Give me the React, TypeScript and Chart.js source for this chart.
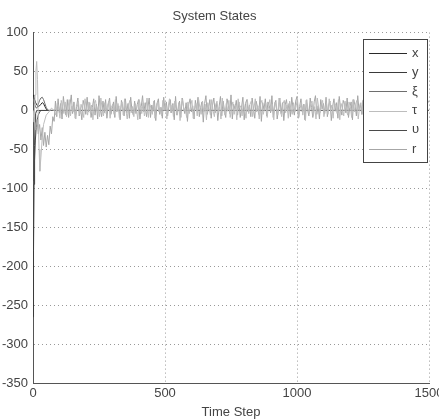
import React, { useEffect, useRef } from "react";
import { Chart, registerables } from "chart.js";

Chart.register(...registerables);

const chartTitle = "System States";
const xAxisTitle = "Time Step";
const xTicks = [0, 500, 1000, 1500];
const yMin = -350;
const yMax = 100;
const yStep = 50;

const seriesLabels = ["x", "y", "ξ", "τ", "υ", "r"];
const seriesColors = ["#2a2a2a", "#3a3a3a", "#6e6e6e", "#bdbdbd", "#4a4a4a", "#a6a6a6"];

// x
const xT = [0, 3, 6, 10, 15, 20, 25, 30, 35, 40, 45, 50, 55, 60, 1500];
const xV = [20, 18, 14, 10, 7, 5, 6, 8, 10, 9, 5, 2, 0, 0, 0];
// y
const yT = [0, 2, 4, 6, 8, 10, 14, 20, 1500];
const yV = [-265, -180, -95, -45, -15, -4, 0, 0, 0];
// xi
const xiT = [0, 5, 10, 15, 20, 25, 30, 35, 40, 45, 50, 55, 60, 70, 1500];
const xiV = [15, 10, 4, 3, 8, 13, 16, 17, 14, 9, 4, 1, 0, 0, 0];
// tau transient
const tauT = [0, 4, 8, 11, 14, 17, 20, 23, 26, 30, 35, 40, 50, 60, 70, 80];
const tauV = [0, -15, 20, 50, 63, 40, -10, -50, -78, -60, -35, -18, -6, -2, 3, 0];
// tau noise, time step 87..1482 every 5
const tauNoiseStart = 87;
const tauNoiseStep = 5;
const tauNoise = [
  -6, 9, 3, -10, 13, 5, -4, 11, -8, 2, 14, -7, 6, -2, 10, -11, 4, 12, -5, 8,
  1, -9, 15, 3, -6, 11, -3, 7, -12, 9, 13, -1, 5, -8, 16, 2, -7, 10, -4, 6,
  12, -10, 4, 8, -5, 14, -2, 9, -9, 3, 11, -6, 15, 0, -11, 7, 13, -3, 5, -8,
  9, 2, -12, 14, 6, -4, 10, -7, 1, 16, -9, 8, 3, -5, 12, -10, 6, 11, -2, 4,
  -7, 13, 0, 9, -11, 5, 15, -3, 7, -8, 12, 2, -6, 10, -13, 8, 14, -1, 3, -9,
  11, -4, 6, 13, -10, 1, 9, -7, 15, 4, -5, 12, -2, 8, -12, 10, 3, -6, 14, 0,
  -8, 7, 12, -3, 5, -11, 16, 2, -6, 9, -1, 13, -9, 4, 11, -5, 7, -12, 15, 3,
  6, -7, 10, 1, -10, 14, -4, 8, 12, -8, 3, 15, -2, 6, -11, 9, 13, -5, 2, 10,
  -9, 5, 14, -1, 8, -12, 11, 4, -6, 16, 0, -8, 9, 13, -3, 7, -10, 12, 2, -5,
  10, -2, 6, 15, -9, 3, 11, -6, 8, -13, 14, 1, -4, 9, 12, -7, 5, -11, 16, 4,
  -3, 8, 13, -8, 2, 10, -5, 15, -1, 7, -10, 11, 6, -4, 14, -12, 9, 3, -7, 12,
  0, -6, 11, 5, -9, 14, -2, 8, 13, -11, 4, 10, -5, 16, 2, -8, 7, 12, -3, 9,
  -10, 6, 15, -4, 1, 11, -7, 9, 14, -2, 5, -12, 10, 3, -6, 13, -9, 8, 0, 11,
  -5, 12, 4, -8, 9, 14, -3, 7, -11, 10, 2, -6, 13, 5, -10, 8, 15, -1, 6, -7,
];
// upsilon
const upT = [0, 3, 6, 9, 12, 16, 20, 25, 30, 40, 1500];
const upV = [-90, -85, -62, -38, -22, -12, -6, -2, 0, 0, 0];
// r transient
const rT = [0, 5, 10, 15, 20, 25, 30, 35, 40, 45, 50, 55, 60, 65, 70, 75, 80];
const rV = [0, -8, -25, -12, -30, -18, -38, -22, -45, -28, -47, -32, -44, -20, -30, -8, -14];
// r noise, time step 85..1500 every 5
const rNoiseStart = 85;
const rNoiseStep = 5;
const rNoise = [
  12, -8, 15, -3, 9, -11, 18, 2, -6, 14, -9, 7, 20, -4, 11, -10, 5, 16, -7, 3,
  -12, 13, 6, -5, 17, -2, 10, -9, 4, 15, -6, 8, -11, 19, 1, -8, 12, -3, 14, -10,
  7, 16, -5, 2, 11, -9, 18, -1, 6, -12, 13, 4, -7, 15, -3, 9, -10, 17, 0, -6,
  12, -4, 8, 14, -11, 5, 19, -2, 10, -8, 3, 16, -9, 7, -1, 13, -13, 9, 15, -5,
  4, -10, 17, 1, 11, -7, 6, 14, -3, 9, -12, 18, -6, 2, 12, -9, 16, 5, -4, 10,
  -14, 8, 15, -2, 6, -11, 13, 0, 17, -8, 4, 11, -15, 9, 19, -5, 3, 14, -10, 7,
  16, -3, 10, -13, 5, 18, -7, 12, 1, -9, 15, 6, -4, 20, -11, 8, 2, 13, -6, 11,
  -9, 4, 17, -12, 9, 14, -2, 7, -8, 16, 3, -10, 12, 5, -5, 18, -14, 10, 1, 15,
  -7, 11, 6, -3, 19, -9, 8, 13, -11, 2, 16, -4, 10, -13, 7, 14, -1, 9, -8, 17,
  3, -6, 12, 18, -10, 5, 15, -2, 8, -12, 13, 1, -7, 16, 4, -9, 11, 19, -5, 6,
  -11, 14, 2, 9, -4, 17, -8, 7, 12, -13, 5, 15, -1, 10, -10, 18, 3, -6, 13, 8,
  -3, 16, -9, 4, 11, -12, 14, 6, -7, 19, 0, 9, -5, 13, -10, 7, 15, -2, 11, -8,
  5, 17, -6, 10, -11, 3, 14, 8, -4, 16, -9, 12, 1, -13, 18, 6, -3, 9, -7, 15,
  10, -2, 13, -8, 5, 17, -10, 8, 2, 14, -5, 11, -12, 16, 4, -6, 9, 18, -3, 12,
  -9, 7, 13, 10,
];

const FONT = "'Liberation Sans', Arial, sans-serif";

function pts(ts: number[], vs: number[]) {
  return ts.map((t, i) => ({ x: t, y: vs[i] }));
}

export default function App() {
  const ref = useRef<HTMLCanvasElement | null>(null);

  useEffect(() => {
    document.body.style.margin = "0";
    const canvas = ref.current;
    if (!canvas) return;

    const rAllT = rT.concat(rNoise.map((_, i) => rNoiseStart + i * rNoiseStep));
    const rAllV = rV.concat(rNoise);
    const tauAllT = tauT.concat(tauNoise.map((_, i) => tauNoiseStart + i * tauNoiseStep));
    const tauAllV = tauV.concat(tauNoise);

    const seriesData = [
      pts(xT, xV),
      pts(yT, yV),
      pts(xiT, xiV),
      pts(tauAllT, tauAllV),
      pts(upT, upV),
      pts(rAllT, rAllV),
    ];

    // draw order: noisy first, dark on top
    const order = [3, 5, 2, 4, 1, 0];
    const datasets = order.map((i) => ({
      label: seriesLabels[i],
      data: seriesData[i],
      borderColor: seriesColors[i],
      backgroundColor: seriesColors[i],
      borderWidth: 1,
      pointRadius: 0,
      tension: 0,
      fill: false,
    }));

    const legendPlugin = {
      id: "matlabLegend",
      afterDatasetsDraw(chart: any) {
        const ctx = chart.ctx;
        const bx = 363, by = 39, bw = 64, bh = 123;
        ctx.save();
        ctx.fillStyle = "#ffffff";
        ctx.fillRect(bx, by, bw, bh);
        ctx.strokeStyle = "#444";
        ctx.lineWidth = 1;
        ctx.strokeRect(bx + 0.5, by + 0.5, bw, bh);
        ctx.font = "13px " + FONT;
        ctx.textBaseline = "middle";
        ctx.textAlign = "left";
        seriesLabels.forEach((lab, i) => {
          const yy = by + 14 + i * 19.2;
          ctx.strokeStyle = seriesColors[i];
          ctx.beginPath();
          ctx.moveTo(bx + 6, Math.round(yy) + 0.5);
          ctx.lineTo(bx + 44, Math.round(yy) + 0.5);
          ctx.stroke();
          ctx.fillStyle = "#444";
          ctx.fillText(lab, bx + 49, yy);
        });
        ctx.restore();
      },
    };

    const chart = new Chart(canvas, {
      type: "line",
      data: { datasets },
      plugins: [legendPlugin],
      options: {
        animation: false,
        responsive: false,
        devicePixelRatio: 1,
        layout: { padding: { left: 0, right: 10, top: 0, bottom: 0 } },
        plugins: {
          legend: { display: false },
          tooltip: { enabled: false },
          title: {
            display: true,
            text: chartTitle,
            color: "#444",
            font: { family: FONT, size: 13, weight: "normal" },
            padding: { top: 9, bottom: 8 },
          },
        },
        scales: {
          x: {
            type: "linear",
            min: 0,
            max: 1500,
            afterBuildTicks: (scale: any) => {
              scale.ticks = xTicks.map((v) => ({ value: v }));
            },
            afterFit: (scale: any) => {
              scale.height = 37;
              scale.paddingRight = 0;
              scale.paddingLeft = 0;
            },
            ticks: {
              color: "#444",
              font: { family: FONT, size: 13 },
              padding: 3,
              maxRotation: 0,
              autoSkip: false,
              callback: (v: any) => String(v),
            },
            grid: { color: "#999", drawTicks: false, lineWidth: 1 },
            border: { display: true, color: "#555", width: 1, dash: [1, 3] },
            title: {
              display: true,
              text: xAxisTitle,
              color: "#444",
              font: { family: FONT, size: 13 },
              padding: { top: 0, bottom: 0 },
            },
          },
          y: {
            type: "linear",
            min: yMin,
            max: yMax,
            ticks: {
              stepSize: yStep,
              color: "#444",
              font: { family: FONT, size: 13 },
              padding: 5,
              callback: (v: any) => String(v),
            },
            afterFit: (scale: any) => {
              scale.width = 33;
              scale.paddingTop = 0;
              scale.paddingBottom = 0;
            },
            grid: { color: "#999", drawTicks: false, lineWidth: 1 },
            border: { display: true, color: "#555", width: 1, dash: [1, 3] },
          },
        },
      } as any,
    });

    return () => chart.destroy();
  }, []);

  return (
    <div style={{ width: 439, height: 420 }}>
      <canvas ref={ref} width={439} height={420} />
    </div>
  );
}
